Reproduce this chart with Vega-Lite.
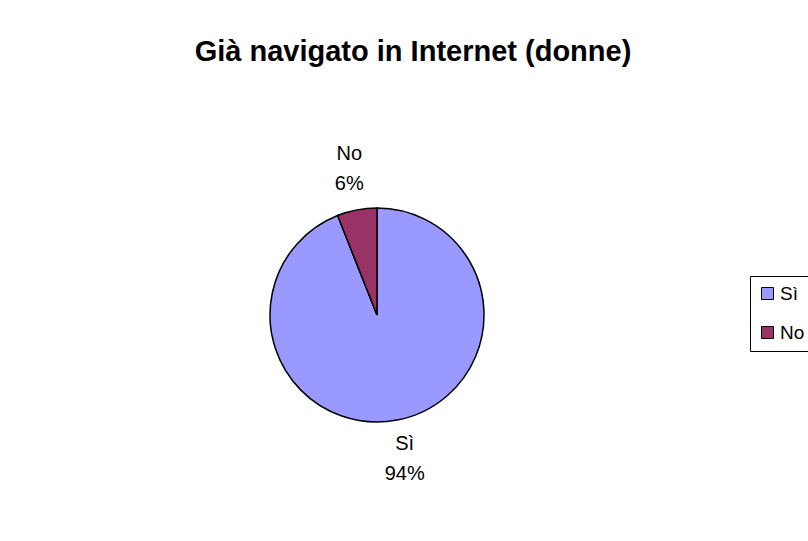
{
  "$schema": "https://vega.github.io/schema/vega-lite/v6.json",
  "autosize": {"type": "none"},
  "padding": {"left": 0, "top": 100, "right": 54, "bottom": 11},
  "width": 754,
  "height": 430,
  "background": "white",
  "title": {
    "text": "Già navigato in Internet (donne)",
    "font": "Liberation Sans",
    "fontSize": 29,
    "fontWeight": "bold",
    "color": "black",
    "anchor": "middle",
    "frame": "group",
    "dx": 36,
    "offset": 33
  },
  "data": {
    "values": [
      {"categoria": "Sì", "valore": 94, "ordine": 1, "etichetta": "Sì\n94%"},
      {"categoria": "No", "valore": 6, "ordine": 2, "etichetta": "No\n6%"}
    ]
  },
  "encoding": {
    "theta": {"field": "valore", "type": "quantitative", "stack": true},
    "order": {"field": "ordine", "type": "quantitative"}
  },
  "layer": [
    {
      "mark": {"type": "arc", "outerRadius": 107, "stroke": "black", "strokeWidth": 1.5},
      "encoding": {
        "color": {
          "field": "categoria",
          "type": "nominal",
          "sort": ["Sì", "No"],
          "scale": {"domain": ["Sì", "No"], "range": ["#9999FF", "#993366"]},
          "legend": {
            "title": null,
            "orient": "none",
            "legendX": 750,
            "legendY": 176,
            "strokeColor": "black",
            "fillColor": "white",
            "padding": 8,
            "symbolType": "square",
            "symbolSize": 144,
            "symbolStrokeColor": "black",
            "symbolStrokeWidth": 1,
            "labelFont": "Liberation Sans",
            "labelFontSize": 19,
            "labelColor": "black",
            "labelOffset": 3,
            "rowPadding": 19
          }
        }
      }
    },
    {
      "mark": {
        "type": "text",
        "radius": 148,
        "font": "Liberation Sans",
        "fontSize": 20,
        "color": "black",
        "lineBreak": "\n",
        "lineHeight": 30,
        "align": "center",
        "baseline": "middle",
        "dy": -16
      },
      "encoding": {
        "text": {"field": "etichetta", "type": "nominal"}
      }
    }
  ],
  "config": {"view": {"stroke": null}}
}
